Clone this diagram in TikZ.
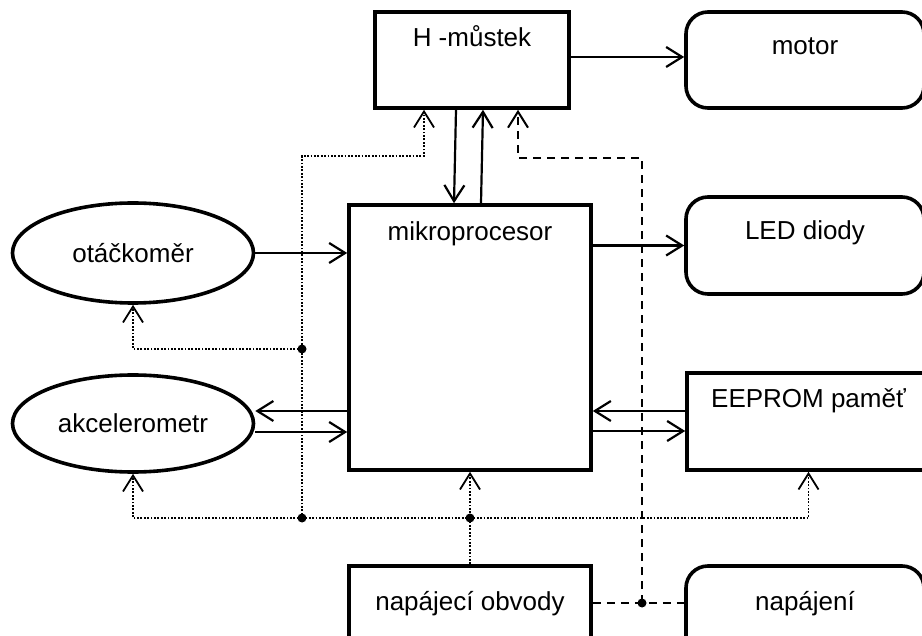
\documentclass[tikz,border=0pt]{standalone}
\usepackage{fontspec}
\setmainfont{Liberation Sans}
\usetikzlibrary{shapes.geometric,arrows.meta}

\begin{document}
\begin{tikzpicture}[x=1pt,y=-1pt,
    font=\fontsize{26}{30}\selectfont,
    >={Straight Barb[length=16pt,width=20pt]},
    blok/.style={draw,line width=3.6pt,inner xsep=0pt,inner ysep=0pt},
    kulaty/.style={blok,rounded corners=22pt},
    oval/.style={draw,line width=3.6pt,ellipse,inner sep=0pt,
      minimum width=241pt},
    sig/.style={line width=2.2pt},
    tecky/.style={line width=1.8pt,dash pattern=on 1.8pt off 1.6pt},
    carky/.style={line width=2pt,dash pattern=on 8pt off 6pt},
    bod/.style={circle,fill,inner sep=0pt,minimum size=9pt}]
  \useasboundingbox (0,0) rectangle (922,636);
  \clip (0,0) rectangle (922,636);

  % bloky
  \node[blok,minimum width=194pt,text height=35pt,text depth=61pt]
    (hmustek) at (472,60) {H -můstek};
  \node[kulaty,minimum width=238pt,text height=43pt,text depth=53pt]
    (motor) at (805,60) {motor};
  \node[blok,minimum width=242pt,text height=36pt,text depth=229pt]
    (mcu) at (470,337.5) {mikroprocesor};
  \node[kulaty,minimum width=238pt,text height=43pt,text depth=54pt]
    (led) at (805,245.5) {LED diody};
  \node[blok,minimum width=243pt,text height=35pt,text depth=62pt]
    (eeprom) at (808.5,421.5) {EEPROM paměť};
  \node[blok,minimum width=242pt,text height=44pt,text depth=50pt]
    (napobv) at (470,613) {napájecí obvody};
  \node[kulaty,minimum width=238pt,text height=44pt,text depth=50pt]
    (napajeni) at (805,613) {napájení};
  \node[oval,minimum height=100pt] (otac) at (133,253) {otáčkoměr};
  \node[oval,minimum height=97pt] (akcel) at (133,423.5) {akcelerometr};

  % pomocne body
  \coordinate (r1) at (302,156);
  \coordinate (r2) at (642,158);
  \node[bod] (u1) at (302,349) {};
  \node[bod] (u2) at (302,518) {};
  \node[bod] (u3) at (470,518) {};
  \node[bod] (u4) at (642,603) {};

  % signaly
  \draw[sig,->] (hmustek.east |- 0,57) -- (motor.west |- 0,57);
  \draw[sig,->] ([xshift=-16pt]hmustek.south) -- ([xshift=-16pt]mcu.north);
  \draw[sig,->] ([xshift=11pt]mcu.north) -- ([xshift=11pt]hmustek.south);
  \draw[sig,->] (otac.east) -- (otac.east -| mcu.west);
  \draw[sig,->] (led.west -| mcu.east) -- (led.west);
  \draw[sig,->] (mcu.west |- 0,411) -- (akcel.east |- 0,411);
  \draw[sig,->] (akcel.east |- 0,432) -- (mcu.west |- 0,432);
  \draw[sig,->] (eeprom.west |- 0,411) -- (mcu.east |- 0,411);
  \draw[sig,->] (mcu.east |- 0,431) -- (eeprom.west |- 0,431);

  % napajeni (tecky)
  \draw[tecky,->] (u2.center) -- (r1) -| ([xshift=-48pt]hmustek.south);
  \draw[tecky,->] (u1.center) -| (otac.south);
  \draw[tecky,->] (u2.center) -| (akcel.south);
  \draw[tecky,->] (u3.center) -| (eeprom.south);
  \draw[tecky] (u2.center) -- (u3.center);
  \draw[tecky,->] (napobv.north) -- (mcu.south);

  % napajeni (carky)
  \draw[carky] (napobv.east |- u4) -- (napajeni.west |- u4);
  \draw[carky,->] (u4.center) -- (r2) -| ([xshift=46pt]hmustek.south);
\end{tikzpicture}
\end{document}
